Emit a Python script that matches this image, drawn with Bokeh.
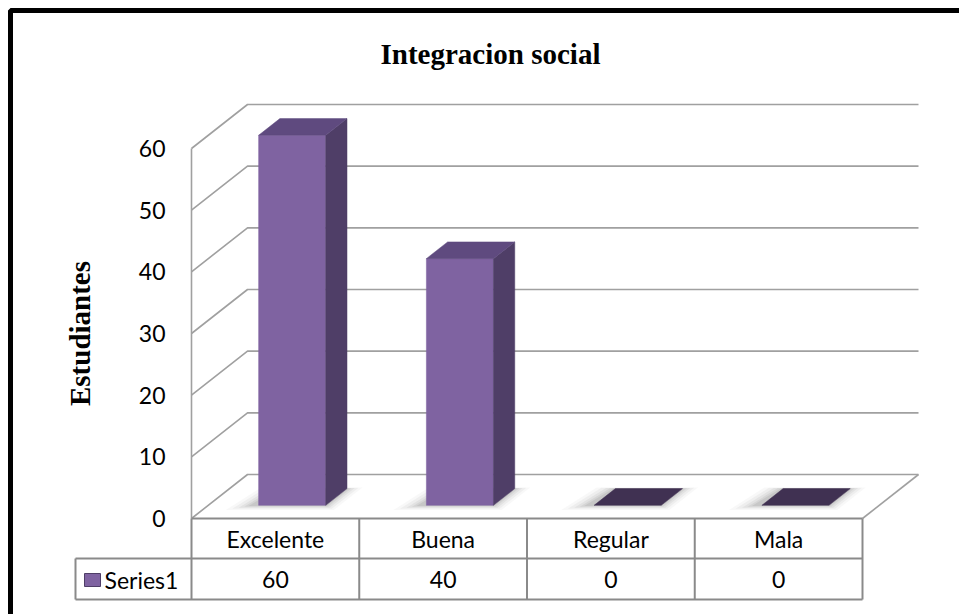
import math
from bokeh.plotting import figure
from bokeh.models import Range1d
from bokeh.core.properties import value
from bokeh.embed import file_html
from bokeh.resources import INLINE

# ---- data ----
title = "Integracion social"
y_title = "Estudiantes"
categories = ["Excelente", "Buena", "Regular", "Mala"]
series_name = "Series1"
values = [60, 40, 0, 0]
y_ticks = [0, 10, 20, 30, 40, 50, 60]

# ---- layout (page pixels) ----
PX0, PX4 = 191, 862      # left / right edge of the category columns (front plane)
PY0, PY60 = 518, 148     # y of value 0 and 60 on the front plane
Y_MAX = max(y_ticks)
UX = (PX4 - PX0) / len(categories)
UY = (PY0 - PY60) / Y_MAX
ORG = 0                  # page position of the figure's top-left corner


def dx(px):
    return (px - PX0) / UX


def dy(py):
    return (PY0 - py) / UY


DX = 56 / UX   # depth offset in column units
DY = 44 / UY   # depth offset in value units


def proj(x, v, d):
    return x + d * DX, v + d * DY


W, H = 959, 614
p = figure(width=W, height=H,
           x_range=Range1d(dx(ORG), dx(ORG + W)),
           y_range=Range1d(dy(ORG + H), dy(ORG)),
           output_backend="svg", toolbar_location=None, min_border=0)
p.xaxis.visible = False
p.yaxis.visible = False
p.grid.visible = False
p.outline_line_color = None
p.background_fill_color = "white"
p.border_fill_color = "white"

GRID = "#a0a0a0"
TABLE = "#8a8a8a"
FONT = value("Lato")
SERIF = value("Liberation Serif")
FS = "23px"

# ---- walls / gridlines ----
ncat = len(categories)
gx, gy = [], []
for t in y_ticks:
    gx.append([0, DX, ncat + DX])
    gy.append([t, t + DY, t + DY])
p.multi_line(gx, gy, line_color=GRID, line_width=1.6)
# left wall front edge and floor right edge
p.multi_line([[0, 0], [ncat, ncat + DX]], [[0, Y_MAX], [0, DY]], line_color=GRID, line_width=1.6)

# ---- bars ----
BW = 0.40
DF, DB = 0.30, 0.68
FRONT = "#7f63a1"
SIDE = "#4f3e67"
TOP = "#5f4a7f"
FLAT = "#403152"

# soft shadows on the floor
for i, v in enumerate(values):
    xc = i + 0.5
    for e, a in [(0.12, 0.05), (0.09, 0.07), (0.06, 0.09), (0.035, 0.11), (0.015, 0.13)]:
        xl, xr = xc - BW / 2 - e, xc + BW / 2 + e * 0.7
        d0, d1 = DF - e * 0.9, DB + e * 0.2
        pts = [proj(xl - 0.04, 0, d0), proj(xr, 0, d0), proj(xr, 0, d1), proj(xl, 0, d1)]
        p.patch([q[0] for q in pts], [q[1] for q in pts], fill_color="#6e6e6e",
                fill_alpha=a, line_color=None)

for i, v in enumerate(values):
    xc = i + 0.5
    xl, xr = xc - BW / 2, xc + BW / 2
    if v > 0:
        front = [proj(xl, 0, DF), proj(xr, 0, DF), proj(xr, v, DF), proj(xl, v, DF)]
        side = [proj(xr, 0, DF), proj(xr, 0, DB), proj(xr, v, DB), proj(xr, v, DF)]
        top = [proj(xl, v, DF), proj(xr, v, DF), proj(xr, v, DB), proj(xl, v, DB)]
        for poly, col in [(front, FRONT), (side, SIDE), (top, TOP)]:
            p.patch([q[0] for q in poly], [q[1] for q in poly], fill_color=col,
                    line_color=col, line_width=0.5)
    else:
        top = [proj(xl, 0, DF), proj(xr, 0, DF), proj(xr, 0, DB), proj(xl, 0, DB)]
        p.patch([q[0] for q in top], [q[1] for q in top], fill_color=FLAT,
                line_color=FLAT, line_width=0.5)

# ---- data table ----
R0, R1, R2 = 0, dy(558), dy(599)
LX = dx(75)
tx = [[0, ncat], [LX, ncat], [LX, ncat], [LX, LX]]
ty = [[R0, R0], [R1, R1], [R2, R2], [R1, R2]]
for k in range(ncat + 1):
    tx.append([k, k])
    ty.append([R0, R2])
p.multi_line(tx, ty, line_color=TABLE, line_width=2)

p.text(x=[i + 0.5 for i in range(ncat)], y=[dy(538)] * ncat, text=categories,
       text_font=FONT, text_font_size=FS, text_color="black",
       text_align="center", text_baseline="middle")
p.text(x=[i + 0.5 for i in range(ncat)], y=[dy(579)] * ncat, text=[str(v) for v in values],
       text_font=FONT, text_font_size=FS, text_color="black",
       text_align="center", text_baseline="middle")
# legend key
p.quad(left=[dx(84)], right=[dx(100)], bottom=[dy(586)], top=[dy(573)],
       fill_color=FRONT, line_color=SIDE, line_width=1)
p.text(x=[dx(104)], y=[dy(579)], text=[series_name], text_font=FONT, text_font_size=FS,
       text_color="black", text_align="left", text_baseline="middle")

# ---- y tick labels ----
p.text(x=[dx(165)] * len(y_ticks), y=y_ticks, text=[str(t) for t in y_ticks],
       text_font=FONT, text_font_size=FS, text_color="black",
       text_align="right", text_baseline="middle")

# ---- titles ----
p.text(x=[dx(490)], y=[dy(53)], text=[title], text_font=SERIF, text_font_style="bold",
       text_font_size="29px", text_color="black", text_align="center",
       text_baseline="middle")
p.text(x=[dx(79)], y=[dy(333)], text=[y_title], text_font=SERIF, text_font_style="bold",
       text_font_size="29px", text_color="black", text_align="center",
       text_baseline="middle", angle=math.pi / 2)

# ---- outer frame (only the top and left edges are visible) ----
p.line([dx(10), dx(10), dx(ORG + W + 10)], [dy(ORG + H + 10), dy(10), dy(10)],
       line_color="black", line_width=5)

open("out.html", "w").write(file_html(p, INLINE))
